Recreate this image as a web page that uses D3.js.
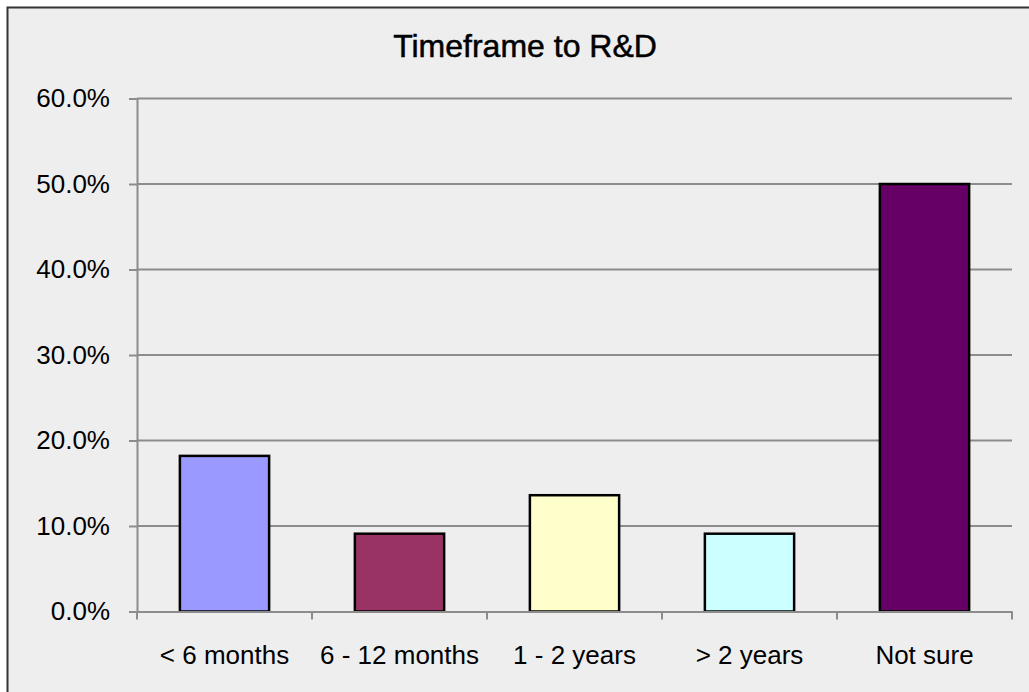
<!DOCTYPE html>
<html>
<head>
<meta charset="utf-8">
<script src="https://cdn.jsdelivr.net/npm/d3@7"></script>
<style>
  body { margin: 0; background: #fff; }
  text { font-family: "Liberation Sans", Arial, sans-serif; fill: #000; }
</style>
</head>
<body>
<div id="chart"></div>
<script>
// data
const categories = ["< 6 months", "6 - 12 months", "1 - 2 years", "> 2 years", "Not sure"];
const values = [0.182, 0.091, 0.136, 0.091, 0.50];
const barColors = ["#9999ff", "#993366", "#ffffcc", "#ccffff", "#660066"];
const yTicks = [0, 0.1, 0.2, 0.3, 0.4, 0.5, 0.6];
const chartTitle = "Timeframe to R&D";

const svgWidth = 1029;
const svgHeight = 692;

const svg = d3.select("#chart")
  .append("svg")
  .attr("width", svgWidth)
  .attr("height", svgHeight);

// chart area background + outer border
svg.append("rect")
  .attr("x", 7.5)
  .attr("y", 7.5)
  .attr("width", 1030)
  .attr("height", 700)
  .attr("fill", "#eeeeee")
  .attr("stroke", "#333")
  .attr("stroke-width", 2);

// plot area
const plot = { left: 137, top: 98.5, right: 1012, bottom: 611.5 };

const xScale = d3.scaleBand()
  .domain(categories)
  .range([plot.left, plot.right])
  .paddingInner(0.49)
  .paddingOuter(0.245);

const bandX = d3.scaleBand()
  .domain(categories)
  .range([plot.left, plot.right]);

const yScale = d3.scaleLinear()
  .domain([0, 0.6])
  .range([plot.bottom, plot.top]);

// gridlines
svg.append("g")
  .selectAll("line")
  .data(yTicks.filter(d => d > 0))
  .enter()
  .append("line")
  .attr("x1", plot.left)
  .attr("x2", plot.right)
  .attr("y1", d => yScale(d))
  .attr("y2", d => yScale(d))
  .attr("stroke", "#8c8c8c")
  .attr("stroke-width", 2);

// y axis
const leftAxis = d3.axisLeft(yScale)
  .tickValues(yTicks)
  .tickFormat(d3.format(".1%"))
  .tickSize(8)
  .tickPadding(19);

const yAxis = svg.append("g")
  .attr("transform", `translate(${plot.left},0)`)
  .call(leftAxis);
yAxis.select(".domain").attr("stroke", "#8c8c8c").attr("stroke-width", 2);
yAxis.selectAll(".tick line").attr("stroke", "#8c8c8c").attr("stroke-width", 2);
yAxis.selectAll(".tick text")
  .attr("font-size", "26px")
  .attr("font-family", "Liberation Sans, Arial, sans-serif")
  .attr("fill", "#000");

// bars
svg.append("g")
  .selectAll("rect")
  .data(values)
  .enter()
  .append("rect")
  .attr("x", (d, i) => xScale(categories[i]))
  .attr("y", d => yScale(d))
  .attr("width", xScale.bandwidth())
  .attr("height", d => plot.bottom - yScale(d))
  .attr("fill", (d, i) => barColors[i])
  .attr("stroke", "#000")
  .attr("stroke-width", 2.5);

// x axis
const bottomAxis = d3.axisBottom(bandX)
  .tickSize(0)
  .tickPadding(34);

const xAxis = svg.append("g")
  .attr("transform", `translate(0,${plot.bottom})`)
  .call(bottomAxis);
xAxis.select(".domain").attr("stroke", "#8c8c8c").attr("stroke-width", 2);
xAxis.selectAll(".tick text")
  .attr("font-size", "26px")
  .attr("font-family", "Liberation Sans, Arial, sans-serif")
  .attr("fill", "#000");

// x tick marks at category boundaries
const boundaries = categories.map(c => bandX(c)).concat([plot.right]);
svg.append("g")
  .selectAll("line")
  .data(boundaries)
  .enter()
  .append("line")
  .attr("x1", d => d)
  .attr("x2", d => d)
  .attr("y1", plot.bottom)
  .attr("y2", plot.bottom + 8)
  .attr("stroke", "#8c8c8c")
  .attr("stroke-width", 2);

// title
svg.append("text")
  .attr("x", 525)
  .attr("y", 57)
  .attr("text-anchor", "middle")
  .attr("font-size", "32px")
  .attr("stroke", "#000")
  .attr("stroke-width", 0.5)
  .text(chartTitle);
</script>
</body>
</html>
